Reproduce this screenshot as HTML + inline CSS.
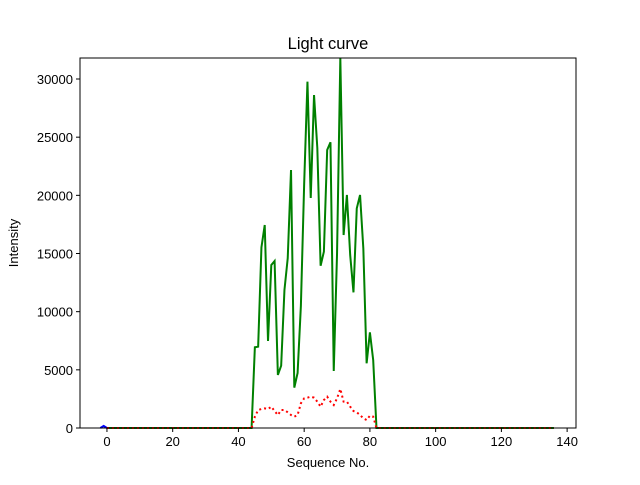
<!DOCTYPE html>
<html><head><meta charset="utf-8"><style>
body{margin:0;background:#fff;}
svg text{font-family:"Liberation Sans","DejaVu Sans",sans-serif;fill:#000;}
</style></head><body>
<svg width="640" height="480" viewBox="0 0 640 480" id="chart">
<rect width="640" height="480" fill="#fff"/>
<g id="plot"></g>
<rect x="80" y="58" width="496" height="370" fill="none" stroke="#000" stroke-width="1"/>
<g id="xticks"></g><g id="yticks"></g>
<text x="328" y="49" text-anchor="middle" font-size="16.5">Light curve</text>
<text x="328" y="467" text-anchor="middle" font-size="13">Sequence No.</text>
<text x="18" y="243" text-anchor="middle" font-size="13" transform="rotate(-90 18 243)">Intensity</text>
</svg>
<script>
const greenX0 = 44;
const greenValues = [0,6940,6990,15530,17450,7480,14010,14350,4560,5360,11860,14610,22180,3470,4730,10500,21000,29770,19770,28620,24070,13950,15160,23900,24560,4900,15000,31800,16590,20030,14870,11660,18880,20030,15440,5560,8220,5840,0];
const redValues = [0,974,1547,1633,1690,1633,1834,1461,1117,1547,1547,1347,1117,974,1117,2120,2550,2607,2693,2607,2264,1834,2407,2693,2264,1977,2550,3352,2264,2264,1834,1461,1347,1117,831,688,1060,974,0];
const blueX = [-2,-1,0];
const blueValues = [0,180,0];
const xTickLabels = [0,20,40,60,80,100,120,140];
const yTickLabels = [0,5000,10000,15000,20000,25000,30000];
const xMin=-8.2,xMax=142.7,yMin=0,yMax=31806;
const L=80,R=576,T=58,B=428;
const sx=v=>L+(v-xMin)/(xMax-xMin)*(R-L);
const sy=v=>B-(v-yMin)/(yMax-yMin)*(B-T);
const NS='http://www.w3.org/2000/svg';
const plot=document.getElementById('plot');
function line(xs,ys,color,dash,name){
  const p=document.createElementNS(NS,'polyline');
  p.setAttribute('points',xs.map((x,i)=>sx(x)+','+sy(ys[i])).join(' '));
  p.setAttribute('fill','none');p.setAttribute('stroke',color);p.setAttribute('stroke-width','2');
  if(dash)p.setAttribute('stroke-dasharray',dash);
  
  
  plot.appendChild(p);
}
// green full series 0..136
const gx=[],gy=[],rx=[],ry=[];
for(let x=0;x<=136;x++){const i=x-greenX0;gx.push(x);gy.push(i>=0&&i<greenValues.length?greenValues[i]:0);ry.push(i>=0&&i<redValues.length?redValues[i]:0);rx.push(x);}
line(blueX,blueValues,'#0000ff',null,'blue-series');
line(gx,gy,'#008000',null,'green-series');
line(rx,ry,'#ff0000','2,3','red-series');
const xt=document.getElementById('xticks');
xTickLabels.forEach(v=>{
  const l=document.createElementNS(NS,'line');
  l.setAttribute('x1',sx(v));l.setAttribute('x2',sx(v));l.setAttribute('y1',B);l.setAttribute('y2',B+4);l.setAttribute('stroke','#000');
  
  
  xt.appendChild(l);
  const t=document.createElementNS(NS,'text');
  t.setAttribute('x',sx(v));t.setAttribute('y',B+18);t.setAttribute('text-anchor','middle');t.setAttribute('font-size','13');
  t.textContent=v;
  
  
  xt.appendChild(t);
});
const yt=document.getElementById('yticks');
yTickLabels.forEach(v=>{
  const l=document.createElementNS(NS,'line');
  l.setAttribute('x1',L-4);l.setAttribute('x2',L);l.setAttribute('y1',sy(v));l.setAttribute('y2',sy(v));l.setAttribute('stroke','#000');
  
  
  yt.appendChild(l);
  const t=document.createElementNS(NS,'text');
  t.setAttribute('x',L-7);t.setAttribute('y',sy(v)+5);t.setAttribute('text-anchor','end');t.setAttribute('font-size','13');
  t.textContent=v;
  
  
  yt.appendChild(t);
});
</script>
</body></html>
